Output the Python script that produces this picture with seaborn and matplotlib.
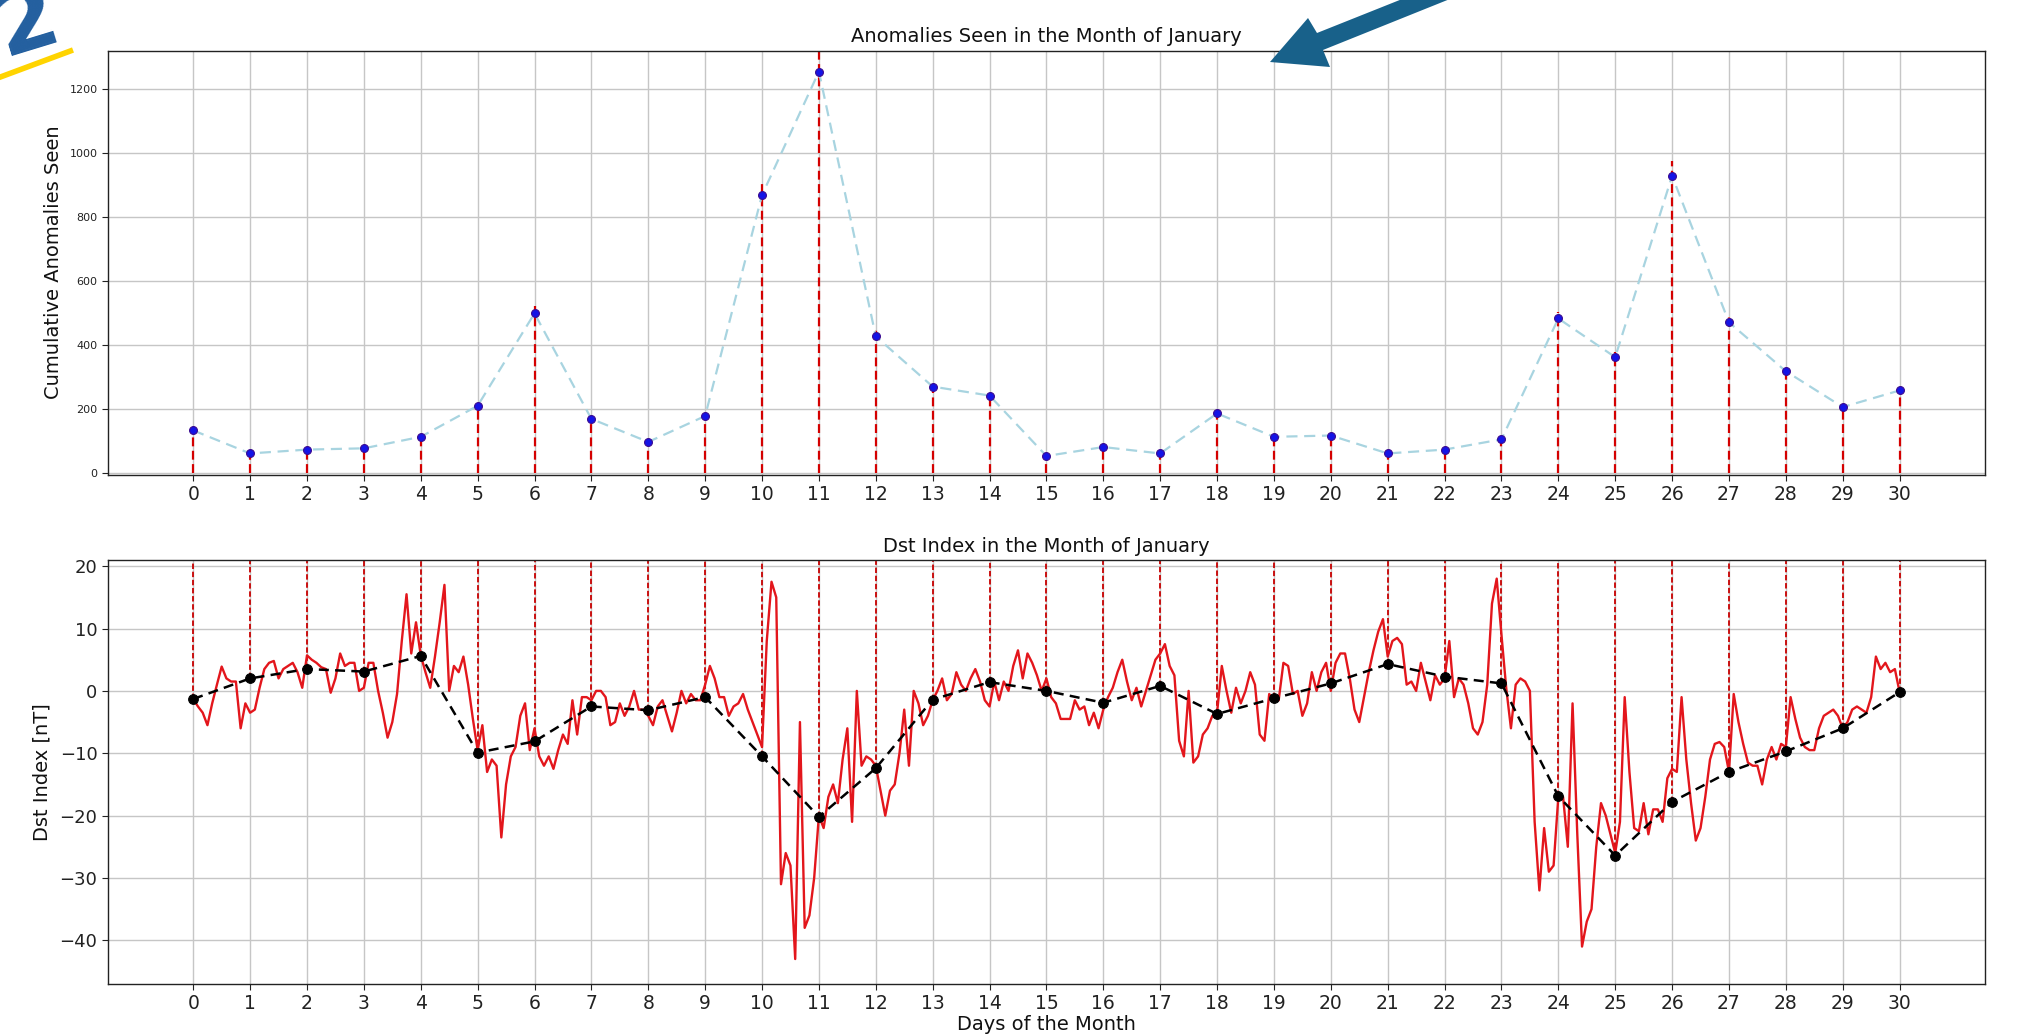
import numpy as np
import pandas as pd
import matplotlib
matplotlib.use("Agg")
import matplotlib.pyplot as plt
import seaborn as sns
from matplotlib.lines import Line2D
from matplotlib.patches import Polygon
from matplotlib.transforms import IdentityTransform

# ---------------- data ----------------
days = list(range(31))
anomalies = [132, 60, 72, 76, 112, 209, 498, 168, 96, 177, 868, 1254, 426, 269, 241,
             52, 80, 60, 185, 112, 116, 60, 72, 104, 482, 361, 928, 470, 317, 205, 257]
dst_daily = [-1.3, 2.0, 3.5, 3.1, 5.6, -9.9, -8.1, -2.5, -3.1, -1.0, -10.5, -20.2, -12.4,
             -1.4, 1.4, 0.0, -1.9, 0.8, -3.7, -1.2, 1.2, 4.3, 2.3, 1.2, -16.9, -26.4,
             -17.8, -13.0, -9.7, -6.0, -0.2]
samples_per_day = 12  # Dst read every 2 hours
dst_2h = [
    -1.3, -2.5, -3.5, -5.5, -2, 1, 3.9, 2, 1.5, 1.5, -6, -2,          # day 0
    -3.5, -3, 0.5, 3.5, 4.5, 4.8, 2, 3.5, 4, 4.5, 3, 0.5,             # day 1
    5.7, 5, 4.5, 3.8, 3.5, -0.3, 2, 6, 4, 4.5, 4.5, 0,                # day 2
    0.5, 4.5, 4.5, 0, -3.5, -7.5, -5, -0.5, 8, 15.5, 6, 11,           # day 3
    5.7, 3, 0.5, 5.5, 11, 17, 0, 4, 3, 5.5, 1, -4.5,                  # day 4
    -9.5, -5.5, -13, -11, -12, -23.5, -15, -10.5, -9, -4, -2, -9.5,   # day 5
    -6, -10.5, -12, -10.5, -12.5, -9.5, -7, -8.5, -1.5, -7, -1, -1,   # day 6
    -1.5, 0, 0, -1, -5.5, -5, -2, -4, -2.5, 0, -3, -3,                # day 7
    -4, -5.5, -2.5, -1.5, -4, -6.5, -3.5, 0, -2, -0.5, -1.5, -1.5,    # day 8
    1, 4, 2, -1, -1, -4, -2.5, -2, -0.5, -3, -5, -7,                  # day 9
    -9, 8, 17.5, 15, -31, -26, -28, -43, -5, -38, -36, -30,           # day 10
    -20, -22, -17, -15, -18, -11, -6, -21, 0, -12, -10.5, -11,        # day 11
    -12, -16, -20, -16, -15, -10, -3, -12, 0, -2, -5.5, -4,           # day 12
    -1.5, 0, 2, -1.5, -0.5, 3, 1, 0, 2, 3.5, 1.5, -1.5,               # day 13
    -2.5, 1.5, -1.5, 1.5, 0, 4, 6.5, 2, 6, 4.5, 2.5, 0,               # day 14
    2, -1, -2, -4.5, -4.5, -4.5, -1.5, -3, -2.5, -5.5, -3.5, -6,      # day 15
    -3, -1, 0.5, 3, 5, 1.5, -1.5, 0.5, -2.5, 0, 2.5, 5,               # day 16
    6, 7.5, 4, 2.5, -8, -10.5, 0, -11.5, -10.5, -7, -6, -4,           # day 17
    -3.5, 4, 0, -3.5, 0.5, -2, 0, 3, 1, -7, -8, -0.5,                 # day 18
    -1.5, -1.5, 4.5, 4, -0.5, 0, -4, -2, 3, 0, 3, 4.5,                # day 19
    0, 4.5, 6, 6, 2, -3, -5, -1, 3, 6.5, 9.5, 11.5,                   # day 20
    5.5, 8, 8.5, 7.5, 1, 1.5, 0, 4.5, 1.5, -1.5, 2.5, 1,              # day 21
    2, 8, -1, 2, 1, -2, -6, -7, -5, 1, 14, 18,                        # day 22
    9, 0.5, -6, 1, 2, 1.5, 0, -21, -32, -22, -29, -28,                # day 23
    -17, -17, -25, -2, -23, -41, -37, -35, -25, -18, -20, -23,        # day 24
    -26, -21, -1, -13, -22, -22.5, -18, -23, -19, -19, -21, -14,      # day 25
    -12.5, -13, -1, -11, -18, -24, -22, -17, -11, -8.5, -8.2, -9,     # day 26
    -13, -0.5, -5, -8.5, -11.5, -12, -12, -15, -11, -9, -11, -8.5,    # day 27
    -9, -1, -4.5, -7.5, -9, -9.5, -9.5, -6, -4, -3.5, -3, -4,         # day 28
    -6, -5, -3, -2.5, -3, -3.5, -1, 5.5, 3.5, 4.5, 3, 3.5,            # day 29
    -0.2,                                                              # day 30
]
top_yticks = [0, 200, 400, 600, 800, 1000, 1200]
bot_yticks = [-40, -30, -20, -10, 0, 10, 20]

# ---------------- style ----------------
sns.set_style("ticks")
plt.rcParams['font.family'] = ['DejaVu Sans']
plt.rcParams['axes.edgecolor'] = '#222222'
plt.rcParams['text.color'] = '#111111'
plt.rcParams['axes.labelcolor'] = '#111111'
plt.rcParams['xtick.color'] = '#222222'
plt.rcParams['ytick.color'] = '#222222'
plt.rcParams['xtick.major.size'] = 4
plt.rcParams['ytick.major.size'] = 4

fig = plt.figure(figsize=(20.17, 10.35), dpi=100)
ax1 = fig.add_axes([0.0535, 0.5415, 0.9306, 0.4097])
ax2 = fig.add_axes([0.0535, 0.0493, 0.9306, 0.4097])

XLIM = (-1.5, 31.5)
Y1 = (-6, 1320)
Y2 = (-47, 21)

for ax in (ax1, ax2):
    ax.set_axisbelow(True)
    ax.grid(True, color='#c6c6c6', lw=1.0)
    for s in ax.spines.values():
        s.set_linewidth(1.0)

# ---------------- top panel ----------------
df_top = pd.DataFrame({'day': days, 'count': anomalies})
vmax = max(anomalies)
y0frac = (0 - Y1[0]) / (Y1[1] - Y1[0])
for d, v in zip(df_top['day'], df_top['count']):
    ax1.axvline(d, ymin=y0frac, ymax=v / vmax, color='#d40000', ls=(0, (4, 2)), lw=1.6, zorder=2)
sns.lineplot(data=df_top, x='day', y='count', ax=ax1, color='#a8d4e0', lw=1.6,
             linestyle=(0, (5, 3)), sort=False, estimator=None, zorder=3)
sns.scatterplot(data=df_top, x='day', y='count', ax=ax1, color='#1414e6', s=32,
                edgecolor='#3a0a90', linewidth=0.8, zorder=4)
ax1.set_xlim(*XLIM)
ax1.set_ylim(*Y1)
ax1.set_xticks(days)
ax1.set_yticks(top_yticks)
ax1.tick_params(axis='y', labelsize=8)
ax1.tick_params(axis='x', labelsize=13.5)
ax1.set_title('Anomalies Seen in the Month of January', fontsize=14)
ax1.set_xlabel('')
ax1.set_ylabel('Cumulative Anomalies Seen', fontsize=14)
ax1.yaxis.set_label_coords(-0.024, 0.5)

# ---------------- bottom panel ----------------
hours = np.arange(len(dst_2h)) / samples_per_day
df_h = pd.DataFrame({'t': hours, 'dst': dst_2h})
df_d = pd.DataFrame({'day': days, 'dst': dst_daily})
for d, v in zip(df_d['day'], df_d['dst']):
    ax2.axvline(d, ymin=(v - Y2[0]) / (Y2[1] - Y2[0]), ymax=1, color='#c80000',
                ls=(0, (3, 1.5)), lw=1.3, zorder=2)
sns.lineplot(data=df_h, x='t', y='dst', ax=ax2, color='#e3161c', lw=1.7,
             sort=False, estimator=None, zorder=3)
sns.lineplot(data=df_d, x='day', y='dst', ax=ax2, color='black', lw=1.8,
             linestyle=(0, (4, 2.5)), marker='o', markersize=7, markeredgecolor='black',
             sort=False, estimator=None, zorder=4)
ax2.set_xlim(*XLIM)
ax2.set_ylim(*Y2)
ax2.set_xticks(days)
ax2.set_yticks(bot_yticks)
ax2.tick_params(axis='y', labelsize=13)
ax2.tick_params(axis='x', labelsize=13.5)
ax2.set_title('Dst Index in the Month of January', fontsize=14)
ax2.set_ylabel('Dst Index [nT]', fontsize=14)
ax2.yaxis.set_label_coords(-0.0298, 0.5)
ax2.set_xlabel('Days of the Month', fontsize=14, labelpad=1)

# ---------------- overlay decorations ----------------
H = 1035
fig.text(64, H - 38, '2', transform=IdentityTransform(), fontsize=64, fontweight='bold',
         color='#235f9f', ha='right', va='baseline', rotation=17, rotation_mode='anchor')
fig.add_artist(Line2D([-5, 73], [H - 79, H - 50], transform=IdentityTransform(),
                      color='#ffd400', lw=4, solid_capstyle='butt'))
arrow_px = [(1270, 62), (1330, 67), (1323, 50), (1547, -40), (1500, -40), (1317, 33), (1308, 18)]
fig.add_artist(Polygon([(x, H - y) for x, y in arrow_px], closed=True,
                       transform=IdentityTransform(), facecolor='#18618a', edgecolor='none'))

fig.savefig('out.png', dpi=100)
